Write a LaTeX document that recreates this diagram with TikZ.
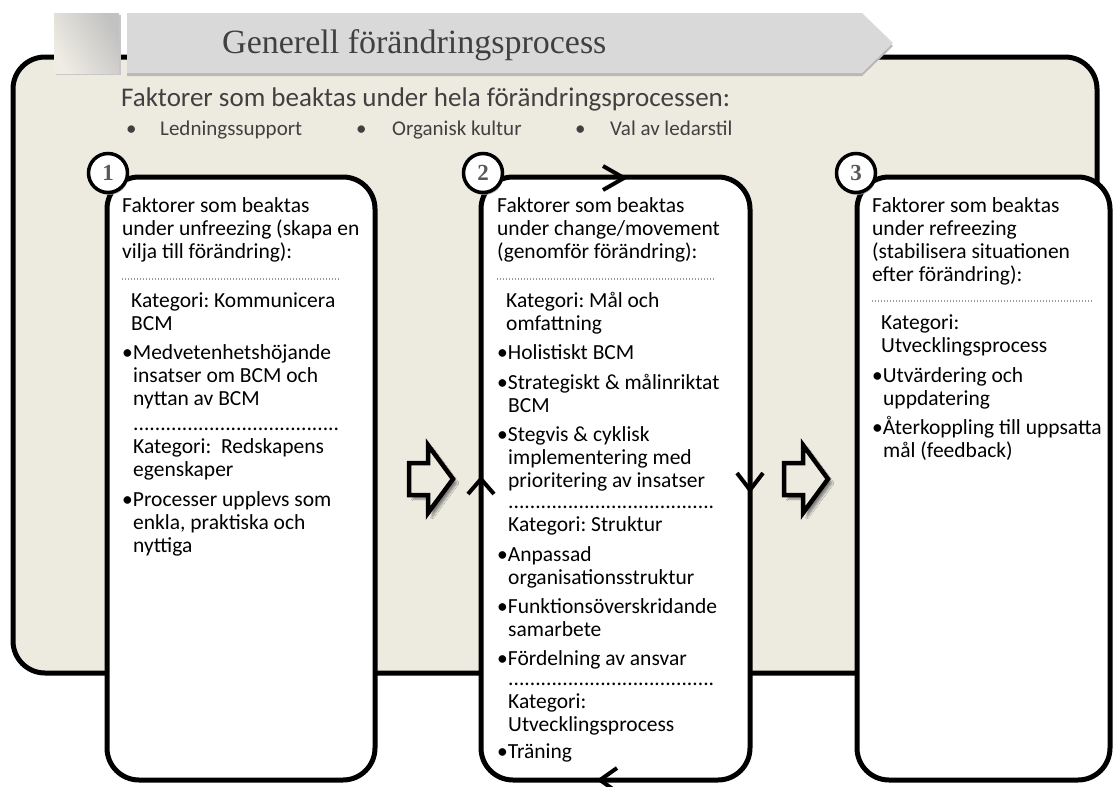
\documentclass[tikz,border=0pt]{standalone}
\usepackage{fontspec}
\setmainfont{Carlito}
\newfontfamily\titlefont{Liberation Serif}
\usetikzlibrary{shadows,shadows.blur}
\definecolor{panelbg}{RGB}{237,234,224}
\definecolor{bannergray}{RGB}{217,217,217}
\definecolor{darktext}{RGB}{64,64,64}
\definecolor{numgray}{RGB}{89,89,89}
\frenchspacing

\begin{document}
\begin{tikzpicture}[x=1pt,y=-1pt,
  outerpanel/.style={draw=black, line width=5pt, rounded corners=32pt, fill=panelbg, inner sep=0pt},
  panel/.style={draw=black, line width=5pt, rounded corners=32pt, fill=white, inner sep=0pt},
  txt/.style={anchor=base west, inner sep=0pt, font=\fontsize{21.5}{23}\selectfont},
  toptxt/.style={anchor=base west, inner sep=0pt, text=darktext, font=\fontsize{21}{23}\selectfont},
  num/.style={circle, draw=black, line width=3.5pt, fill=white, minimum size=39pt, inner sep=0pt,
    text=numgray, font=\titlefont\bfseries\fontsize{23}{23}\selectfont,
    drop shadow={shadow xshift=1pt, shadow yshift=-2.5pt, fill=black!40, opacity=0.8}},
  sepline/.style={draw=black!40, line width=1.3pt, dash pattern=on 1.3pt off 1.7pt},
  blockarrow/.style={draw=black, line width=4.5pt, line join=miter, fill=panelbg,
    blur shadow={shadow xshift=4pt, shadow yshift=-4pt, shadow blur steps=6, shadow opacity=45}},
  flowmark/.style={draw=black, line width=4pt, line join=miter}
]
\useasboundingbox (0,0) rectangle (1114,787);

% background panel for the whole process
\node[outerpanel, minimum width=1084pt, minimum height=616pt] (outer) at (555,365) {};

% title banner: square tab and chevron
\fill[black!22] (56,15) rectangle (121,75);
\shade[shading=axis, left color=black!24, right color=panelbg!90!white, shading angle=-60]
  (54,13) rectangle (119,73);
\fill[black!28] (127,16) -- (862,16) -- (893,46) -- (862,76) -- (127,76) -- cycle;
\fill[bannergray] (127,13) -- (862,13) -- (893,43) -- (862,73) -- (127,73) -- cycle;
\node[anchor=base west, inner sep=0pt, text=darktext, font=\titlefont\fontsize{34}{34}\selectfont]
  (title) at (222,53) {Generell förändringsprocess};

% factors for the whole process
\node[anchor=base west, inner sep=0pt, text=darktext, font=\fontsize{27}{27}\selectfont]
  (sub) at (121,106) {Faktorer som beaktas under hela förändringsprocessen:};
\node[toptxt] (bulA) at (126,135) {•};
\node[toptxt] (facA) at (160,135) {Ledningssupport};
\node[toptxt] (bulB) at (356,135) {•};
\node[toptxt] (facB) at (392,135) {Organisk kultur};
\node[toptxt] (bulC) at (575,135) {•};
\node[toptxt] (facC) at (610,135) {Val av ledarstil};

% the three phase panels
\node[panel, minimum width=268pt, minimum height=603pt] (p1) at (241,478.5) {};
\node[panel, minimum width=269pt, minimum height=603pt] (p2) at (615.5,478.5) {};
\node[panel, minimum width=253pt, minimum height=603pt] (p3) at (983.5,478.5) {};

% phase numbers
\node[num] (n1) at (108,173) {1};
\node[num] (n2) at (483,173) {2};
\node[num] (n3) at (856,173) {3};

% panel 1: unfreezing
\node[txt] (a1) at (122,212) {Faktorer som beaktas};
\node[txt] (a2) at (122,235) {under unfreezing (skapa en};
\node[txt] (a3) at (122,258) {vilja till förändring):};
\coordinate (s1a) at (122,279); \coordinate (s1b) at (340,279);
\draw[sepline] (s1a) -- (s1b);
\node[txt] (a4) at (131,307) {Kategori: Kommunicera};
\node[txt] (a5) at (131,330) {BCM};
\node[txt] (a6) at (122,359) {•Medvetenhetshöjande};
\node[txt] (a7) at (133,382) {insatser om BCM och};
\node[txt] (a8) at (133,405) {nyttan av BCM};
\node[txt] (a9) at (133,430) {......................................};
\node[txt] (a10) at (133,453) {Kategori:~ Redskapens};
\node[txt] (a11) at (133,476) {egenskaper};
\node[txt] (a12) at (122,506) {•Processer upplevs som};
\node[txt] (a13) at (133,529) {enkla, praktiska och};
\node[txt] (a14) at (133,552) {nyttiga};

% panel 2: change/movement
\node[txt] (b1) at (497,212) {Faktorer som beaktas};
\node[txt] (b2) at (497,235) {under change/movement};
\node[txt] (b3) at (497,258) {(genomför förändring):};
\coordinate (s2a) at (497,279); \coordinate (s2b) at (715,279);
\draw[sepline] (s2a) -- (s2b);
\node[txt] (b4) at (506,307) {Kategori: Mål och};
\node[txt] (b5) at (506,330) {omfattning};
\node[txt] (b6) at (497,359) {•Holistiskt BCM};
\node[txt] (b7) at (497,389) {•Strategiskt \& målinriktat};
\node[txt] (b8) at (508,412) {BCM};
\node[txt] (b9) at (497,441) {•Stegvis \& cyklisk};
\node[txt] (b10) at (508,464) {implementering med};
\node[txt] (b11) at (508,487) {prioritering av insatser};
\node[txt] (b12) at (508,508) {......................................};
\node[txt] (b13) at (508,531) {Kategori: Struktur};
\node[txt] (b14) at (497,561) {•Anpassad};
\node[txt] (b15) at (508,584) {organisationsstruktur};
\node[txt] (b16) at (497,613) {•Funktionsöverskridande};
\node[txt] (b17) at (508,636) {samarbete};
\node[txt] (b18) at (497,665) {•Fördelning av ansvar};
\node[txt] (b19) at (508,685) {......................................};
\node[txt] (b20) at (508,708) {Kategori:};
\node[txt] (b21) at (508,731) {Utvecklingsprocess};
\node[txt] (b22) at (497,758) {•Träning};

% panel 3: refreezing
\node[txt] (c1) at (872,212) {Faktorer som beaktas};
\node[txt] (c2) at (872,235) {under refreezing};
\node[txt] (c3) at (872,258) {(stabilisera situationen};
\node[txt] (c4) at (872,281) {efter förändring):};
\coordinate (s3a) at (872,301); \coordinate (s3b) at (1092,301);
\draw[sepline] (s3a) -- (s3b);
\node[txt] (c5) at (881,329) {Kategori:};
\node[txt] (c6) at (881,352) {Utvecklingsprocess};
\node[txt] (c7) at (872,382) {•Utvärdering och};
\node[txt] (c8) at (883,405) {uppdatering};
\node[txt] (c9) at (872,434) {•Återkoppling till uppsatta};
\node[txt] (c10) at (883,457) {mål (feedback)};

% block arrows between the phases
\foreach \dx in {0,375}{
  \draw[blockarrow, shift={(\dx,0)}] (409,463) -- (428,463) -- (428,445) -- (453,479)
    -- (428,513) -- (428,495) -- (409,495) -- cycle;
}

% circulation marks on the border of panel 2
\draw[flowmark] (603,166) -- (624,178) -- (603,190);
\draw[flowmark] (737,473) -- (750,490) -- (763,473);
\draw[flowmark] (617,768) -- (600,780) -- (617,792);
\draw[flowmark] (468,494) -- (481,479) -- (494,494);
\end{tikzpicture}
\end{document}
